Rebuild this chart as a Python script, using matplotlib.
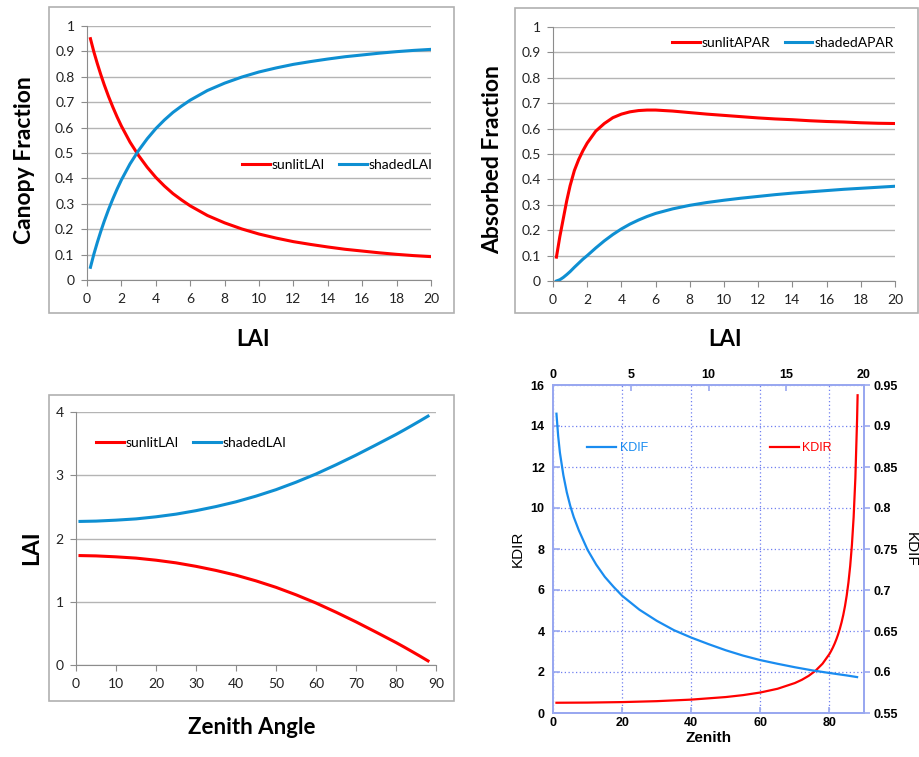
"""Sunlit / shaded canopy fractions, absorbed PAR and extinction coefficients."""
import matplotlib

matplotlib.use("Agg")
from matplotlib import pyplot as plt
from matplotlib.patches import Rectangle

W, H = 920, 757
RED = "#ff0000"
BLUE = "#0e8fd2"
BLUE4 = "#1a8cf0"
GRID = "#b4b4b4"
AXIS = "#8c8c8c"
XL_FONT = ["Lato", "DejaVu Sans"]
AR_FONT = ["Liberation Sans", "DejaVu Sans"]

# panel 1 + 2: fractions vs LAI
lai = [0.2, 0.4, 0.6, 0.8, 1.0, 1.25, 1.5, 1.75, 2.0, 2.5, 3.0, 3.5, 4, 4.5, 5, 5.5,
       6, 7, 8, 9, 10, 11, 12, 13, 14, 15, 16, 17, 18, 19, 20]
sunlit_frac = [0.95, 0.898, 0.852, 0.809, 0.769, 0.723, 0.681, 0.642, 0.606, 0.543,
               0.49, 0.444, 0.404, 0.37, 0.34, 0.315, 0.292, 0.254, 0.225, 0.201,
               0.181, 0.165, 0.151, 0.14, 0.13, 0.121, 0.114, 0.107, 0.101, 0.096, 0.092]
shaded_frac = [0.05, 0.102, 0.148, 0.191, 0.231, 0.277, 0.319, 0.358, 0.394, 0.457,
               0.51, 0.556, 0.596, 0.63, 0.66, 0.685, 0.708, 0.746, 0.775, 0.799,
               0.819, 0.835, 0.849, 0.86, 0.87, 0.879, 0.886, 0.893, 0.899, 0.904, 0.908]
sunlit_apar = [0.094, 0.175, 0.245, 0.315, 0.375, 0.435, 0.478, 0.513, 0.543, 0.59,
               0.62, 0.643, 0.657, 0.666, 0.671, 0.673, 0.673, 0.669, 0.663, 0.657,
               0.652, 0.647, 0.642, 0.638, 0.635, 0.631, 0.628, 0.626, 0.623, 0.621, 0.62]
shaded_apar = [0.0, 0.005, 0.014, 0.025, 0.037, 0.054, 0.07, 0.086, 0.10, 0.13,
               0.158, 0.183, 0.205, 0.224, 0.24, 0.254, 0.266, 0.284, 0.298, 0.309,
               0.318, 0.326, 0.333, 0.34, 0.346, 0.351, 0.356, 0.361, 0.365, 0.369, 0.373]

# panel 3: LAI split vs zenith angle
zenith = [1, 5, 10, 15, 20, 25, 30, 35, 40, 45, 50, 55, 60, 65, 70, 75, 80, 82, 84,
          86, 88]
sunlit_lai = [1.73, 1.725, 1.71, 1.69, 1.657, 1.615, 1.56, 1.495, 1.42, 1.33, 1.228,
              1.11, 0.98, 0.835, 0.682, 0.52, 0.355, 0.285, 0.213, 0.14, 0.065]
shaded_lai = [2.27, 2.275, 2.29, 2.31, 2.343, 2.385, 2.44, 2.505, 2.58, 2.67, 2.772,
              2.89, 3.02, 3.165, 3.318, 3.48, 3.645, 3.715, 3.787, 3.86, 3.935]

# panel 4: extinction coefficients vs zenith
zen_dir = [1, 10, 20, 30, 40, 50, 55, 60, 65, 70, 72, 74, 76, 78, 80, 80.5, 81, 81.5,
           82, 82.5, 83, 83.5, 84, 84.5, 85, 85.5, 86, 86.5, 87, 87.5, 88, 88.15]
kdir = [0.5, 0.508, 0.532, 0.577, 0.653, 0.778, 0.872, 1.0, 1.183, 1.462, 1.618,
        1.814, 2.067, 2.405, 2.879, 3.03, 3.196, 3.383, 3.593, 3.831, 4.103, 4.417,
        4.783, 5.217, 5.737, 6.372, 7.168, 8.19, 9.554, 11.46, 14.33, 15.5]
zen_dif = [1, 1.5, 2, 3, 4, 5, 6, 7.5, 10, 12.5, 15, 17.5, 20, 25, 30, 35, 40, 45,
           50, 55, 60, 65, 70, 75, 80, 85, 88]
kdif = [0.915, 0.8875, 0.8675, 0.84, 0.819, 0.8025, 0.789, 0.7725, 0.749, 0.731,
        0.716, 0.704, 0.693, 0.676, 0.6625, 0.651, 0.642, 0.634, 0.6265, 0.62,
        0.6145, 0.61, 0.6058, 0.602, 0.5988, 0.5958, 0.5938]


def px_rect(x0, y0, x1, y1):
    """Convert a pixel box (top-left origin) to figure fractions."""
    return [x0 / W, 1 - y1 / H, (x1 - x0) / W, (y1 - y0) / H]


def px_text(fig, x, y, s, **kw):
    fig.text(x / W, 1 - y / H, s, ha="center", va="center", **kw)


def excel_axes(fig, box, frame, xlim, xticks, ylim, yticks, fmt=None):
    """Axes styled like an Excel scatter chart."""
    fig.patches.append(Rectangle(frame[:2], frame[2], frame[3], transform=fig.transFigure,
                                 fill=False, edgecolor="#b0b0b0", lw=1.2))
    ax = fig.add_axes(box)
    ax.set_xlim(xlim)
    ax.set_ylim(ylim)
    ax.set_xticks(xticks)
    ax.set_yticks(yticks)
    if fmt:
        ax.set_yticklabels([fmt(v) for v in yticks])
    ax.grid(axis="y", color=GRID, lw=1.0)
    ax.set_axisbelow(True)
    for s in ("top", "right"):
        ax.spines[s].set_visible(False)
    for s in ("left", "bottom"):
        ax.spines[s].set_color(AXIS)
    ax.tick_params(direction="out", length=4, color=AXIS, labelsize=10,
                   labelcolor="#222222", pad=5)
    for lab in ax.get_xticklabels() + ax.get_yticklabels():
        lab.set_family(XL_FONT)
    return ax


def excel_legend(ax, **kw):
    return ax.legend(ncol=2, frameon=False, handlelength=2.0, handletextpad=0.15,
                     columnspacing=1.0, borderpad=0, borderaxespad=0,
                     prop={"family": XL_FONT, "size": 10}, **kw)


def frac_fmt(v):
    return "0" if v == 0 else ("1" if v == 1 else f"{v:.1f}")


fig = plt.figure(figsize=(W / 100, H / 100), dpi=100)
fracs = [i / 10 for i in range(11)]

# panel 1
ax1 = excel_axes(fig, px_rect(87, 26, 431, 280), px_rect(49, 7, 454, 313),
                 (0, 20), range(0, 21, 2), (0, 1), fracs, frac_fmt)
ax1.plot(lai, sunlit_frac, color=RED, lw=2.2, label="sunlitLAI")
ax1.plot(lai, shaded_frac, color=BLUE, lw=2.2, label="shadedLAI")
excel_legend(ax1, loc="center left", bbox_to_anchor=(0.45, 0.454))
px_text(fig, 25, 160, "Canopy Fraction", rotation=90, fontsize=16.5, fontweight="bold",
        family=XL_FONT)
px_text(fig, 253, 340, "LAI", fontsize=16, fontweight="bold", family=XL_FONT)

# panel 2
ax2 = excel_axes(fig, px_rect(553, 27, 895, 281), px_rect(515, 8, 918, 313),
                 (0, 20), range(0, 21, 2), (0, 1), fracs, frac_fmt)
ax2.plot(lai, sunlit_apar, color=RED, lw=2.2, label="sunlitAPAR")
ax2.plot(lai, shaded_apar, color=BLUE, lw=2.2, label="shadedAPAR")
excel_legend(ax2, loc="center left", bbox_to_anchor=(0.348, 0.938))
px_text(fig, 493, 160, "Absorbed Fraction", rotation=90, fontsize=16.5, fontweight="bold",
        family=XL_FONT)
px_text(fig, 725, 340, "LAI", fontsize=16, fontweight="bold", family=XL_FONT)

# panel 3
ax3 = excel_axes(fig, px_rect(76, 412, 436, 665), px_rect(49, 395, 454, 701),
                 (0, 90), range(0, 91, 10), (0, 4), range(0, 5))
ax3.plot(zenith, sunlit_lai, color=RED, lw=2.2, label="sunlitLAI")
ax3.plot(zenith, shaded_lai, color=BLUE, lw=2.2, label="shadedLAI")
excel_legend(ax3, loc="center left", bbox_to_anchor=(0.056, 0.877))
px_text(fig, 32, 548, "LAI", rotation=90, fontsize=16.5, fontweight="bold", family=XL_FONT)
px_text(fig, 252, 727, "Zenith Angle", fontsize=16, fontweight="bold", family=XL_FONT)

# panel 4
spine_c = "#99a8f0"
ax4 = fig.add_axes(px_rect(553, 385, 864, 713))
ax4.set_xlim(0, 90)
ax4.set_ylim(0, 16)
ax4.set_xticks(range(0, 81, 20))
ax4.set_yticks(range(0, 17, 2))
ax4.grid(color="#6f7ff0", ls=(0, (1, 2)), lw=0.9)
ax4.plot(zen_dir, kdir, color=RED, lw=1.6, label="KDIR")
ax4.set_ylabel("KDIR", family=AR_FONT, fontsize=11, labelpad=4)
ax4.set_xlabel("Zenith", family=AR_FONT, fontsize=11, fontweight="bold", labelpad=1)

ax4r = ax4.twinx()
ax4r.set_ylim(0.55, 0.95)
ax4r.set_yticks([0.55, 0.6, 0.65, 0.7, 0.75, 0.8, 0.85, 0.9, 0.95])
ax4r.set_yticklabels(["0.55", "0.6", "0.65", "0.7", "0.75", "0.8", "0.85", "0.9", "0.95"])
ax4r.plot(zen_dif, kdif, color=BLUE4, lw=1.6, label="KDIF")
ax4r.set_ylabel("KDIF", family=AR_FONT, fontsize=11, rotation=270, labelpad=14)

ax4t = ax4.twiny()
ax4t.set_xlim(0, 20)
ax4t.set_xticks(range(0, 21, 5))

for a in (ax4, ax4r, ax4t):
    for s in a.spines.values():
        s.set_color(spine_c)
        s.set_linewidth(1.2)
    a.tick_params(direction="in", length=4, color=spine_c, width=1.2, labelsize=9, pad=3)
    for lab in a.get_xticklabels() + a.get_yticklabels():
        lab.set_family(AR_FONT)
        lab.set_fontweight("bold")
ax4.tick_params(axis="y", length=5, pad=6)
ax4r.tick_params(axis="y", direction="out", length=4, pad=3)

for a, x0 in ((ax4r, 0.11), (ax4, 0.697)):
    a.legend(loc="center left", bbox_to_anchor=(x0, 0.807), frameon=False,
             handlelength=2.3, handletextpad=0.3, borderpad=0, borderaxespad=0,
             labelcolor="linecolor", prop={"family": AR_FONT, "size": 9})

fig.savefig("out.png", dpi=100)
